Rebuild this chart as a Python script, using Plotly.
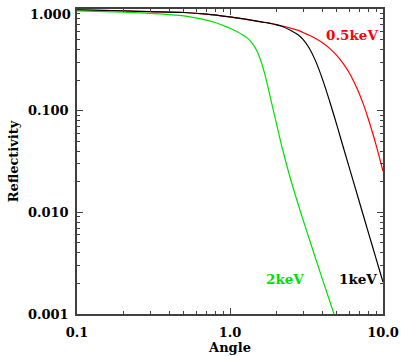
import numpy as np
import plotly.graph_objects as go

# ---- data ----
angle = [0.1, 0.2, 0.3, 0.5, 0.7, 1.0, 1.2, 1.4, 1.6, 1.8, 2.0, 2.2, 2.5,
         2.8, 3.0, 3.3, 3.6, 4.0, 4.5, 5.0, 5.5, 6.0, 6.5, 7.0, 7.5, 8.0,
         8.5, 9.0, 9.5, 10.0]
refl_05kev = [0.980, 0.958, 0.943, 0.924, 0.891, 0.836, 0.803, 0.774, 0.748,
              0.725, 0.702, 0.681, 0.647, 0.616, 0.587, 0.552, 0.515, 0.468,
              0.408, 0.348, 0.290, 0.237, 0.188, 0.147, 0.112, 0.0838,
              0.0624, 0.0462, 0.0342, 0.0255]
refl_1kev = [0.980, 0.958, 0.943, 0.924, 0.891, 0.836, 0.803, 0.774, 0.748,
             0.725, 0.702, 0.673, 0.614, 0.555, 0.502, 0.411, 0.316, 0.209,
             0.121, 0.0717, 0.0437, 0.0280, 0.0186, 0.0127, 0.00895, 0.00643,
             0.00472, 0.00353, 0.00268, 0.00206]
angle_2kev = [0.1, 0.2, 0.3, 0.5, 0.7, 0.8, 0.9, 1.0, 1.1, 1.2, 1.3, 1.4, 1.5,
              1.6, 1.7, 1.8, 2.0, 2.2, 2.5, 3.0, 3.5, 4.0, 4.5, 5.0]
refl_2kev = [0.958, 0.930, 0.907, 0.855, 0.777, 0.736, 0.688, 0.647, 0.605,
             0.562, 0.517, 0.459, 0.387, 0.301, 0.220, 0.153, 0.0774, 0.0422,
             0.0207, 0.00848, 0.00414, 0.00224, 0.00132, 0.00082]

x_tickvals = [0.1, 1.0, 10.0]
x_ticktext = ["0.1", "1.0", "10.0"]
y_tickvals = [0.001, 0.01, 0.1, 1.0]
y_ticktext = ["0.001", "0.010", "0.100", ""]

labels = ["0.5keV", "1keV", "2keV"]
label_x = [6.24, 6.86, 2.28]
label_y = [0.56, 0.00221, 0.00221]

RED = "#ff0000"
BLACK = "#000000"
GREEN = "#00e000"
AX = "#404040"
FONT = dict(family="DejaVu Serif", size=13, color="black", weight="bold")

fig = go.Figure()
fig.add_trace(go.Scatter(x=angle, y=refl_05kev, mode="lines",
                         line=dict(color=RED, width=1.2, shape="spline")))
fig.add_trace(go.Scatter(x=angle, y=refl_1kev, mode="lines",
                         line=dict(color=BLACK, width=1.2, shape="spline")))
fig.add_trace(go.Scatter(x=angle_2kev, y=refl_2kev, mode="lines",
                         line=dict(color=GREEN, width=1.2, shape="spline")))

minor_x = [m * 10.0 ** d for d in (-1, 0) for m in range(2, 10)]
minor_y = [m * 10.0 ** d for d in (-3, -2, -1) for m in range(2, 10)]

fig.update_xaxes(type="log", range=[-1, 1], showgrid=False, zeroline=False,
                 automargin=False,
                 showline=True, linecolor=AX, linewidth=1.5, mirror="allticks",
                 ticks="inside", ticklen=6, tickcolor=AX, tickwidth=1.2,
                 tickmode="array", tickvals=x_tickvals, ticktext=x_ticktext,
                 tickfont=FONT, ticklabelstandoff=6,
                 minor=dict(tickmode="array", tickvals=minor_x, ticks="inside",
                            ticklen=3, tickcolor=AX, tickwidth=1.2, showgrid=False),
                 title=dict(text="Angle", font=FONT, standoff=4))
fig.update_yaxes(type="log", range=[-3, 0], showgrid=False, zeroline=False,
                 automargin=False,
                 showline=True, linecolor=AX, linewidth=1.5, mirror="allticks",
                 ticks="inside", ticklen=6, tickcolor=AX, tickwidth=1.2,
                 tickmode="array", tickvals=y_tickvals, ticktext=y_ticktext,
                 tickfont=FONT, ticklabelstandoff=4,
                 minor=dict(tickmode="array", tickvals=minor_y, ticks="inside",
                            ticklen=3, tickcolor=AX, tickwidth=1.2, showgrid=False),
                 title=dict(text="Reflectivity", font=FONT, standoff=6))

# top y label, drawn slightly below the axis top as in the reference
fig.add_annotation(x=0, xref="paper", y=0, yref="y", text="1.000",
                   showarrow=False, xanchor="right", yanchor="middle",
                   xshift=-4, yshift=-5, font=FONT)

for txt, lx, ly, col in zip(labels, label_x, label_y, [RED, BLACK, GREEN]):
    fig.add_annotation(x=np.log10(lx), y=np.log10(ly), xref="x", yref="y",
                       text=txt, showarrow=False,
                       font=dict(family="DejaVu Serif", size=13.5, color=col,
                                 weight="bold"))

fig.update_layout(width=401, height=356, showlegend=False,
                  margin=dict(l=77, r=18, t=9, b=42),
                  paper_bgcolor="white", plot_bgcolor="white")

fig.write_html("out.html")
